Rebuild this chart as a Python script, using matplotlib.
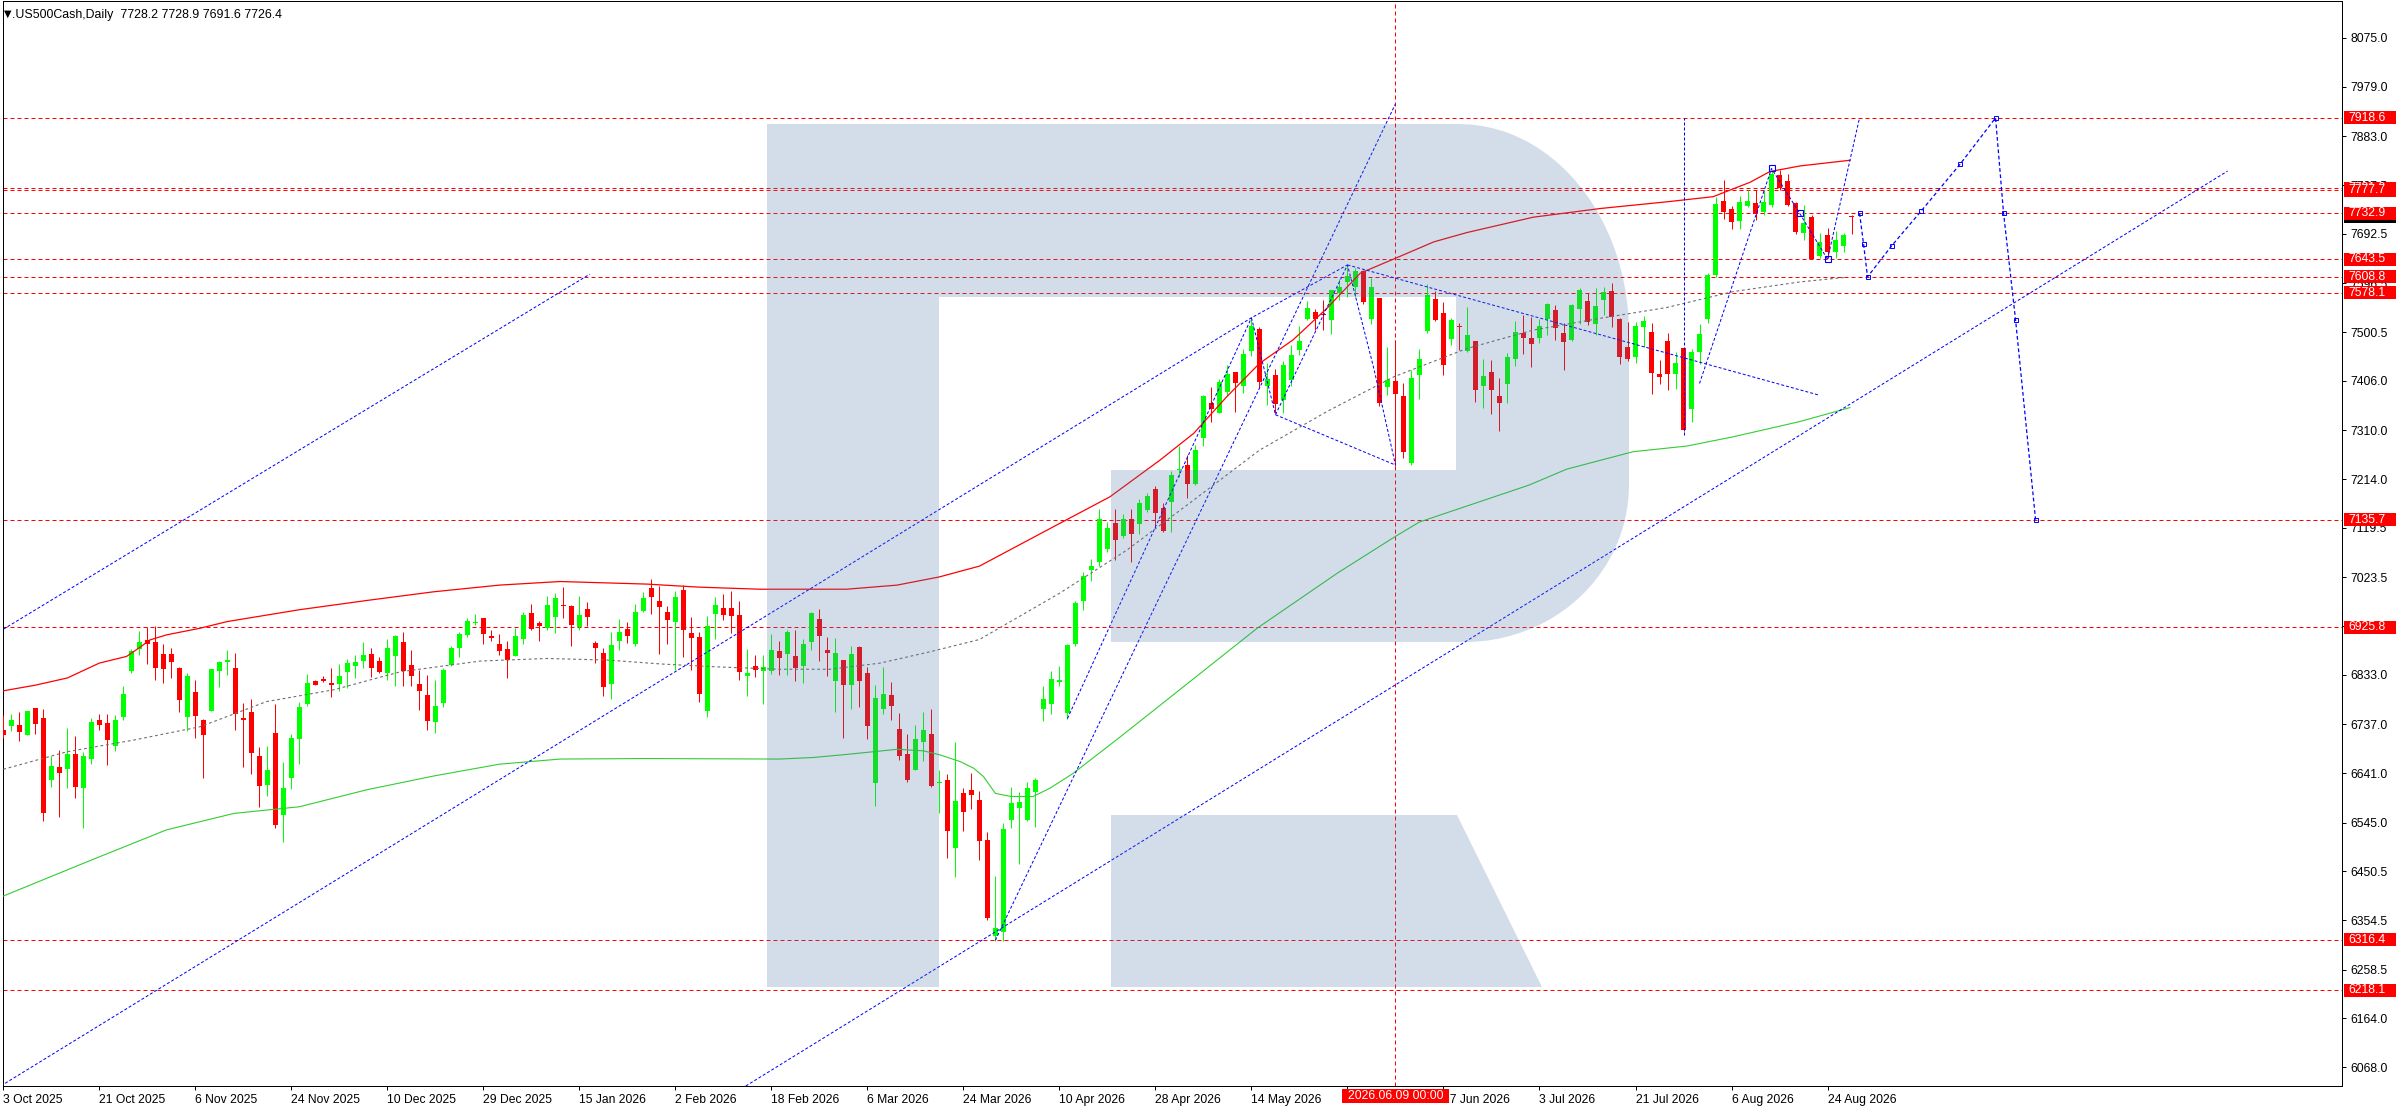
import numpy as np
import matplotlib
matplotlib.use('agg')  # no display
import matplotlib.pyplot as plt
import matplotlib.transforms as mtransforms
from matplotlib.patches import Polygon, Rectangle

plt.rcParams['font.family'] = ['Liberation Sans', 'DejaVu Sans']

# daily bars, .US500Cash
opens = [6726, 6734, 6735, 6716, 6768, 6749, 6629, 6653, 6650, 6679,
         6613, 6670, 6745, 6739, 6695, 6750, 6841, 6883, 6901, 6897,
         6874, 6874, 6847, 6750, 6800, 6745, 6763, 6841, 6859, 6846,
         6749, 6761, 6675, 6619, 6720, 6560, 6633, 6708, 6776, 6821,
         6825, 6817, 6816, 6839, 6851, 6861, 6874, 6860, 6837, 6869,
         6897, 6852, 6815, 6794, 6742, 6779, 6852, 6886, 6911, 6934,
         6944, 6909, 6893, 6883, 6870, 6903, 6954, 6934, 6925, 6945,
         6970, 6967, 6926, 6961, 6895, 6876, 6816, 6899, 6922, 6894,
         6958, 7002, 6977, 6956, 6936, 6999, 6915, 6907, 6763, 6952,
         6963, 6963, 6950, 6830, 6850, 6841, 6841, 6880, 6874, 6870,
         6851, 6898, 6942, 6881, 6822, 6862, 6814, 6887, 6837, 6623,
         6767, 6794, 6727, 6679, 6648, 6703, 6718, 6623, 6628, 6496,
         6603, 6609, 6589, 6511, 6325, 6332, 6551, 6574, 6551, 6605,
         6767, 6777, 6820, 6758, 6893, 6978, 7038, 7053, 7079, 7129,
         7104, 7137, 7128, 7155, 7195, 7158, 7170, 7232, 7242, 7206,
         7295, 7363, 7344, 7385, 7423, 7397, 7465, 7507, 7397, 7417,
         7369, 7408, 7467, 7527, 7540, 7537, 7525, 7577, 7599, 7589,
         7620, 7527, 7568, 7395, 7406, 7376, 7246, 7417, 7503, 7565,
         7538, 7487, 7513, 7464, 7484, 7396, 7423, 7376, 7400, 7449,
         7499, 7489, 7490, 7527, 7545, 7499, 7486, 7546, 7562, 7516,
         7564, 7581, 7527, 7472, 7453, 7511, 7501, 7419, 7484, 7420,
         7470, 7352, 7463, 7527, 7613, 7757, 7741, 7718, 7747, 7753,
         7735, 7749, 7807, 7796, 7753, 7695, 7725, 7649, 7690, 7658,
         7669, 7728.2]
highs = [6755, 6757, 6760, 6763, 6769, 6766, 6675, 6686, 6729, 6714,
         6682, 6749, 6757, 6757, 6755, 6811, 6883, 6919, 6926, 6928,
         6893, 6885, 6848, 6837, 6823, 6747, 6844, 6860, 6881, 6876,
         6778, 6786, 6692, 6694, 6776, 6663, 6718, 6780, 6835, 6823,
         6831, 6846, 6854, 6864, 6872, 6897, 6885, 6868, 6903, 6911,
         6917, 6882, 6843, 6833, 6823, 6846, 6889, 6917, 6944, 6952,
         6944, 6920, 6913, 6900, 6925, 6956, 6971, 6938, 6987, 6993,
         7004, 6969, 6987, 6975, 6899, 6885, 6917, 6942, 6936, 6971,
         6995, 7020, 7006, 6967, 6997, 7008, 6946, 6917, 6948, 6985,
         6991, 6997, 6977, 6883, 6872, 6872, 6913, 6899, 6921, 6921,
         6903, 6956, 6961, 6907, 6905, 6862, 6889, 6889, 6848, 6813,
         6848, 6819, 6759, 6718, 6736, 6761, 6766, 6647, 6640, 6702,
         6612, 6642, 6607, 6527, 6441, 6544, 6614, 6605, 6625, 6632,
         6811, 6841, 6851, 6893, 6977, 7033, 7059, 7156, 7131, 7156,
         7147, 7156, 7176, 7187, 7201, 7168, 7230, 7279, 7261, 7281,
         7379, 7395, 7410, 7437, 7423, 7468, 7529, 7512, 7440, 7430,
         7445, 7476, 7513, 7562, 7547, 7564, 7583, 7605, 7632, 7626,
         7622, 7607, 7568, 7472, 7486, 7402, 7427, 7468, 7595, 7582,
         7560, 7528, 7519, 7550, 7484, 7448, 7446, 7411, 7460, 7523,
         7534, 7530, 7527, 7558, 7554, 7519, 7556, 7587, 7577, 7587,
         7589, 7597, 7529, 7521, 7521, 7532, 7519, 7447, 7499, 7462,
         7470, 7468, 7517, 7616, 7764, 7798, 7747, 7766, 7778, 7778,
         7778, 7817, 7817, 7809, 7755, 7749, 7729, 7694, 7704, 7698,
         7694, 7728.9]
lows = [6711, 6724, 6705, 6716, 6718, 6549, 6615, 6557, 6613, 6594,
        6535, 6660, 6726, 6658, 6685, 6745, 6837, 6872, 6854, 6824,
        6818, 6826, 6761, 6724, 6711, 6633, 6763, 6810, 6833, 6726,
        6653, 6640, 6575, 6597, 6534, 6508, 6611, 6660, 6772, 6813,
        6819, 6790, 6802, 6808, 6827, 6847, 6828, 6837, 6824, 6812,
        6812, 6812, 6765, 6726, 6720, 6771, 6850, 6867, 6907, 6930,
        6894, 6900, 6872, 6826, 6869, 6894, 6921, 6899, 6920, 6915,
        6944, 6890, 6921, 6928, 6857, 6792, 6787, 6882, 6896, 6890,
        6956, 6952, 6874, 6894, 6843, 6867, 6843, 6781, 6750, 6903,
        6940, 6915, 6824, 6792, 6828, 6777, 6835, 6833, 6833, 6822,
        6818, 6882, 6861, 6831, 6761, 6711, 6767, 6771, 6709, 6578,
        6757, 6746, 6668, 6625, 6648, 6666, 6615, 6564, 6477, 6440,
        6529, 6572, 6473, 6356, 6315, 6315, 6535, 6465, 6549, 6537,
        6744, 6757, 6811, 6748, 6889, 6960, 7016, 7045, 7073, 7057,
        7100, 7054, 7108, 7151, 7120, 7112, 7112, 7219, 7178, 7203,
        7280, 7326, 7343, 7377, 7346, 7383, 7455, 7395, 7360, 7344,
        7344, 7397, 7456, 7525, 7506, 7506, 7498, 7564, 7570, 7570,
        7556, 7517, 7358, 7379, 7240, 7256, 7242, 7370, 7499, 7523,
        7417, 7476, 7466, 7462, 7365, 7354, 7342, 7309, 7363, 7435,
        7459, 7434, 7480, 7495, 7486, 7428, 7484, 7516, 7514, 7495,
        7535, 7512, 7438, 7445, 7441, 7472, 7381, 7400, 7389, 7391,
        7309, 7326, 7438, 7519, 7609, 7722, 7703, 7703, 7745, 7720,
        7729, 7745, 7778, 7747, 7692, 7681, 7643, 7646, 7646, 7646,
        7658, 7691.6]
closes = [6716, 6746, 6722, 6763, 6737, 6564, 6655, 6642, 6679, 6615,
          6675, 6742, 6736, 6707, 6745, 6796, 6880, 6897, 6894, 6847,
          6845, 6859, 6785, 6831, 6753, 6716, 6844, 6858, 6862, 6757,
          6746, 6681, 6617, 6647, 6541, 6612, 6710, 6770, 6817, 6814,
          6821, 6814, 6831, 6856, 6858, 6872, 6847, 6839, 6885, 6909,
          6841, 6830, 6802, 6744, 6772, 6843, 6885, 6913, 6938, 6935,
          6913, 6904, 6880, 6863, 6909, 6950, 6922, 6929, 6969, 6983,
          6968, 6930, 6950, 6945, 6886, 6810, 6891, 6917, 6909, 6956,
          6983, 6985, 6966, 6940, 6985, 6921, 6904, 6796, 6928, 6969,
          6950, 6947, 6839, 6837, 6843, 6848, 6881, 6865, 6917, 6847,
          6893, 6954, 6909, 6876, 6876, 6814, 6874, 6822, 6734, 6788,
          6796, 6773, 6674, 6629, 6708, 6725, 6617, 6625, 6529, 6588,
          6566, 6598, 6510, 6360, 6340, 6533, 6583, 6585, 6612, 6628,
          6786, 6825, 6823, 6891, 6973, 7025, 7045, 7137, 7119, 7096,
          7137, 7108, 7168, 7182, 7149, 7114, 7222, 7234, 7206, 7271,
          7376, 7352, 7404, 7419, 7402, 7458, 7513, 7404, 7410, 7361,
          7437, 7456, 7484, 7548, 7527, 7535, 7583, 7589, 7610, 7620,
          7560, 7589, 7362, 7408, 7381, 7268, 7411, 7448, 7573, 7525,
          7437, 7524, 7511, 7495, 7389, 7415, 7389, 7363, 7452, 7501,
          7489, 7478, 7513, 7556, 7510, 7482, 7553, 7583, 7521, 7552,
          7579, 7531, 7453, 7449, 7513, 7523, 7422, 7414, 7420, 7441,
          7311, 7462, 7497, 7612, 7751, 7736, 7716, 7755, 7757, 7731,
          7755, 7810, 7781, 7749, 7697, 7714, 7643, 7677, 7657, 7680,
          7690, 7726.4]

# moving averages (bar index, value)
red_ma_x = [0, 4, 8, 12, 15.4, 17.1, 18.3, 20.4, 24.6, 28, 37, 45.4, 53.8, 62,
            69.6, 80.4, 87, 94.6, 105.4, 111.7, 117, 122, 132, 138.3, 144.6,
            148.8, 152.9, 157, 161.2, 165.4, 169.6, 174, 178.8, 182.9, 191.2,
            199.6, 207.9, 213.7, 218.3, 220.8, 224.6, 230.8]
red_ma_y = [6802, 6813, 6827, 6856, 6869, 6887, 6901, 6911, 6924, 6937, 6960,
            6978, 6995, 7008, 7015, 7010, 7004, 7000, 7000, 7008, 7024, 7045,
            7128, 7180, 7252, 7304, 7375, 7440, 7486, 7547, 7616, 7645, 7677,
            7695, 7725, 7742, 7755, 7765, 7793, 7814, 7825, 7836]
green_ma_x = [0, 11.3, 20.4, 28.8, 33.8, 37, 45.4, 53.8, 62, 69.6, 80.4, 97,
              101.2, 105.4, 111.7, 115, 117.1, 119.6, 121.3, 122.5, 124, 126,
              128.7, 130.8, 133.7, 139.5, 142.9, 148.8, 156.8, 166.8, 174, 177,
              190.7, 195.4, 203.7, 210.4, 216.2, 224.6, 230.8]
green_ma_y = [6402, 6474, 6531, 6563, 6571, 6576, 6609, 6636, 6659, 6669,
              6670, 6669, 6672, 6678, 6688, 6685, 6677, 6664, 6651, 6635,
              6602, 6596, 6596, 6612, 6641, 6711, 6753, 6826, 6925, 7032,
              7103, 7131, 7203, 7234, 7268, 7279, 7297, 7327, 7354]
grey_ma_x = [0, 7.9, 16.3, 24.6, 32.9, 41.3, 49.6, 59.6, 67.9, 75.4, 82.5,
             88.7, 97, 103.3, 109.6, 115.8, 122, 132, 140.4, 148.8, 157,
             165.4, 173.8, 182.9, 191.2, 199.6, 207.9, 216.2, 224.6, 230.4]
grey_ma_y = [6649, 6683, 6706, 6732, 6781, 6804, 6839, 6860, 6865, 6862,
             6854, 6849, 6844, 6844, 6856, 6878, 6902, 6992, 7076, 7174,
             7271, 7346, 7414, 7469, 7505, 7528, 7549, 7580, 7599, 7608]

# horizontal levels with their price boxes
levels = [7918.6, 7781.0, 7777.7, 7732.9, 7643.5, 7608.8, 7578.1,
          7135.7, 6925.8, 6316.4, 6218.1]
last_price = 7726.4
marked_bar = 174
marked_label = '2026.06.09 00:00'

# blue drawing objects: (bar, price) vertices
trend_lines = [
    [(0, 6922), (73.3, 7614)],
    [(-0.3, 6032), (156, 7529), (168, 7632)],
    [(92.8, 6031.8), (278, 7815)],
    [(133, 6748), (156, 7529)],
    [(124, 6316), (174, 7946)],
    [(156, 7529), (159, 7340), (168, 7632), (171.3, 7430), (174, 7242)],
    [(159, 7340), (174, 7242)],
    [(168, 7632), (227, 7378)],
    [(210, 7300), (210, 7919)],
    [(212, 7401), (221, 7820), (224.5, 7733), (228, 7643)],
    [(228, 7643), (232, 7918.6)],
]
forecast = [(232, 7732.9), (232.5, 7673), (233, 7608.8), (236, 7669),
            (239.7, 7737), (244.6, 7829), (249, 7918.6), (250, 7733),
            (251.5, 7525), (254, 7135.7)]
wave_marks = [(221, 7820), (224.5, 7733), (228, 7643)]

tick_prices = [8075.0, 7979.0, 7883.0, 7787.5, 7692.5, 7596.5, 7500.5, 7406.0,
               7310.0, 7214.0, 7119.5, 7023.5, 6929.0, 6833.0, 6737.0, 6641.0,
               6545.0, 6450.5, 6354.5, 6258.5, 6164.0, 6068.0]
date_labels = ['3 Oct 2025', '21 Oct 2025', '6 Nov 2025', '24 Nov 2025',
               '10 Dec 2025', '29 Dec 2025', '15 Jan 2026', '2 Feb 2026',
               '18 Feb 2026', '6 Mar 2026', '24 Mar 2026', '10 Apr 2026',
               '28 Apr 2026', '14 May 2026', '1 Jun 2026', '17 Jun 2026',
               '3 Jul 2026', '21 Jul 2026', '6 Aug 2026', '24 Aug 2026']
date_step = 12

title = '.US500Cash,Daily  7728.2 7728.9 7691.6 7726.4'

W, H = 2396, 1110
PX = 0.72  # one pixel in points
fig = plt.figure(figsize=(W / 100, H / 100), dpi=100)
ax = fig.add_axes([2.5 / W, 24 / H, 2339.5 / W, 1085 / H])
ymin, ymax = 6031.8, 8146.4
ax.set_xlim(-0.1, 292.3)
ax.set_ylim(ymin, ymax)

# candles
o = np.array(opens, float)
h = np.array(highs, float)
l = np.array(lows, float)
c = np.array(closes, float)
x = np.arange(len(c))
col = np.where(c >= o, '#00ff00', '#ff0000')
ax.vlines(x, l, h, colors=col, lw=PX, zorder=3)
ax.bar(x, np.maximum(np.abs(c - o), 1.6), bottom=np.minimum(o, c), width=0.62,
       color=col, linewidth=0, zorder=3.1)

# moving averages
ax.plot(red_ma_x, red_ma_y, color='#ff0000', lw=0.9, zorder=4)
ax.plot(green_ma_x, green_ma_y, color='#32cd32', lw=0.8, zorder=4)
ax.plot(grey_ma_x, grey_ma_y, color='#6e6e6e', lw=0.8, dashes=(2.5, 2.5), zorder=4)

# levels and marked date
for lv in levels:
    ax.axhline(lv, color='#ff0000', lw=PX, dashes=(4, 3), zorder=2)
ax.axvline(marked_bar, color='#ff0000', lw=PX, dashes=(4, 3), zorder=2)

# blue dotted objects
for seg in trend_lines:
    xs, ys = zip(*seg)
    ax.plot(xs, ys, color='#0000ff', lw=PX, dashes=(3, 2), zorder=4.5)
fx, fy = zip(*forecast)
ax.plot(fx, fy, color='#0000ff', lw=0.9, dashes=(3, 2), zorder=4.5)
ax.plot(fx[:-1], fy[:-1], ls='none', marker='s', ms=3, mfc='none',
        mec='#0000ff', mew=0.7, zorder=4.6)
ax.plot(fx[-1], fy[-1], ls='none', marker='s', ms=3, mfc='none',
        mec='#0000ff', mew=0.7, zorder=4.6)
wx, wy = zip(*wave_marks)
ax.plot(wx, wy, ls='none', marker='s', ms=4, mfc='none', mec='#0000ff',
        mew=0.8, zorder=4.6)

# watermark logo (image pixels -> axes fraction)
def px(xp, yp):
    return ((xp - 2.5) / 2339.5, (1086 - yp) / 1085)

a1 = np.linspace(np.pi / 2, 0, 24)
a2 = np.linspace(0, -np.pi / 2, 24)
outline = [(767, 124), (1459, 124)]
outline += [(1459 + 170 * np.cos(a), 333 - 209 * np.sin(a)) for a in a1]
outline += [(1629, 485)]
outline += [(1465 + 164 * np.cos(a), 485 - 157 * np.sin(a)) for a in a2]
outline += [(1111, 642), (1111, 470), (1456, 470), (1456, 297), (939, 297),
            (939, 987), (767, 987)]
leg = [(1111, 815), (1457, 815), (1542, 987), (1111, 987)]
for shape in (outline, leg):
    ax.add_patch(Polygon([px(*p) for p in shape], closed=True,
                         transform=ax.transAxes, fc='#4d79aa', alpha=0.25,
                         lw=0, zorder=6))

# axes styling
for s in ax.spines.values():
    s.set_color('black')
    s.set_linewidth(PX)
ax.yaxis.tick_right()
ax.set_yticks(tick_prices)
ax.set_yticklabels([f'{t:.1f}' for t in tick_prices])
ax.tick_params(axis='y', direction='out', length=3, width=PX, pad=3,
               labelsize=8.7, colors='black')
ax.set_xticks(np.arange(len(date_labels)) * date_step)
ax.set_xticklabels(date_labels, ha='left')
ax.tick_params(axis='x', direction='out', length=3, width=PX, pad=2.5,
               labelsize=8.7, colors='black')

# price boxes on the right axis, each one stacked above the previous
blend_y = mtransforms.blended_transform_factory(ax.transAxes, ax.transData)
box_h = 13 / 1085 * (ymax - ymin)
box_z = [20]


def price_box(val, fc):
    z = box_z[0]
    ax.add_patch(Rectangle((1.0008, val - box_h / 2), 53 / 2339.5, box_h,
                           transform=blend_y, fc=fc, ec='none',
                           clip_on=False, zorder=z))
    ax.text(1.0029, val, f'{val:.1f}', transform=blend_y, color='white',
            fontsize=8.7, ha='left', va='center', clip_on=False, zorder=z + 0.5)
    box_z[0] += 1


price_box(last_price, 'black')
for lv in levels:
    price_box(lv, '#ff0000')

# date box at the bottom
blend_x = mtransforms.blended_transform_factory(ax.transData, ax.transAxes)
ax.add_patch(Rectangle((marked_bar - 53.5 / 8, -0.0157), 107 / 8, 0.0129,
                       transform=blend_x, fc='#ff0000', ec='none',
                       clip_on=False, zorder=40))
ax.text(marked_bar, -0.0093, marked_label, transform=blend_x, color='white',
        fontsize=8.7, ha='center', va='center', clip_on=False, zorder=41)

# header
ax.text(0.0006, 0.9878, '\u25bc', transform=ax.transAxes, fontsize=7,
        family=['DejaVu Sans'], ha='left', va='center', zorder=41)
ax.text(0.0042, 0.9875, title, transform=ax.transAxes, fontsize=8.9,
        ha='left', va='center', zorder=41)

fig.savefig('out.png', dpi=100, facecolor='white')
